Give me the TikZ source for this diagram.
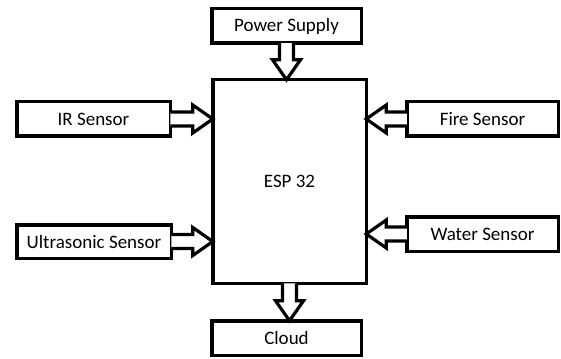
\documentclass[tikz,border=0pt]{standalone}
\usepackage{fontspec}
\setmainfont{Carlito}
\usetikzlibrary{calc}
\tikzset{
  blk/.style={draw=black, line width=3.5pt, fill=white, inner sep=0pt, outer sep=0pt,
    minimum width=152pt, minimum height=34.5pt, font=\fontsize{19}{22}\selectfont},
  blockarrow/.style={draw=black, line width=3.2pt, fill=white, line join=miter, miter limit=10},
}
\newcommand\sw{7pt}
\newcommand\hw{14pt}
\newcommand\hl{20pt}
\newcommand\barrow[2]{%
  \draw[blockarrow] ($(#1)!\sw!-90:(#2)$) -- ($(#2)!\hl!(#1)!\sw!90:(#1)$)
    -- ($(#2)!\hl!(#1)!\hw!90:(#1)$) -- (#2)
    -- ($(#2)!\hl!(#1)!\hw!-90:(#1)$) -- ($(#2)!\hl!(#1)!\sw!-90:(#1)$)
    -- ($(#1)!\sw!90:(#2)$);}
\begin{document}
\begin{tikzpicture}[x=1pt,y=-1pt]
\useasboundingbox[fill=white] (0,0) rectangle (561,358);
\node[blk, minimum width=149.5pt] (power) at (286.5,26) {Power Supply};
\node[blk, minimum width=153.5pt, minimum height=203.5pt] (esp) at (289.5,181.5) {ESP 32};
\node[blk, minimum width=153.5pt] (ir) at (93.5,119) {IR Sensor};
\node[blk, minimum width=154.5pt, minimum height=33.5pt] (us) at (94,241.5) {Ultrasonic Sensor};
\node[blk, minimum width=151.5pt] (fire) at (482.5,119) {Fire Sensor};
\node[blk, minimum width=151.5pt] (water) at (482.5,234) {Water Sensor};
\node[blk, minimum width=149.5pt] (cloud) at (286.5,338) {Cloud};
\coordinate (pt) at (power.south |- esp.north);
\coordinate (irt) at (ir.east -| esp.west);
\coordinate (ust) at (us.east -| esp.west);
\coordinate (fit) at (fire.west -| esp.east);
\coordinate (wat) at (water.west -| esp.east);
\coordinate (clt) at (esp.south |- cloud.north);
\barrow{power.south}{pt}
\barrow{ir.east}{irt}
\barrow{us.east}{ust}
\barrow{fire.west}{fit}
\barrow{water.west}{wat}
\barrow{esp.south}{clt}
\end{tikzpicture}
\end{document}
